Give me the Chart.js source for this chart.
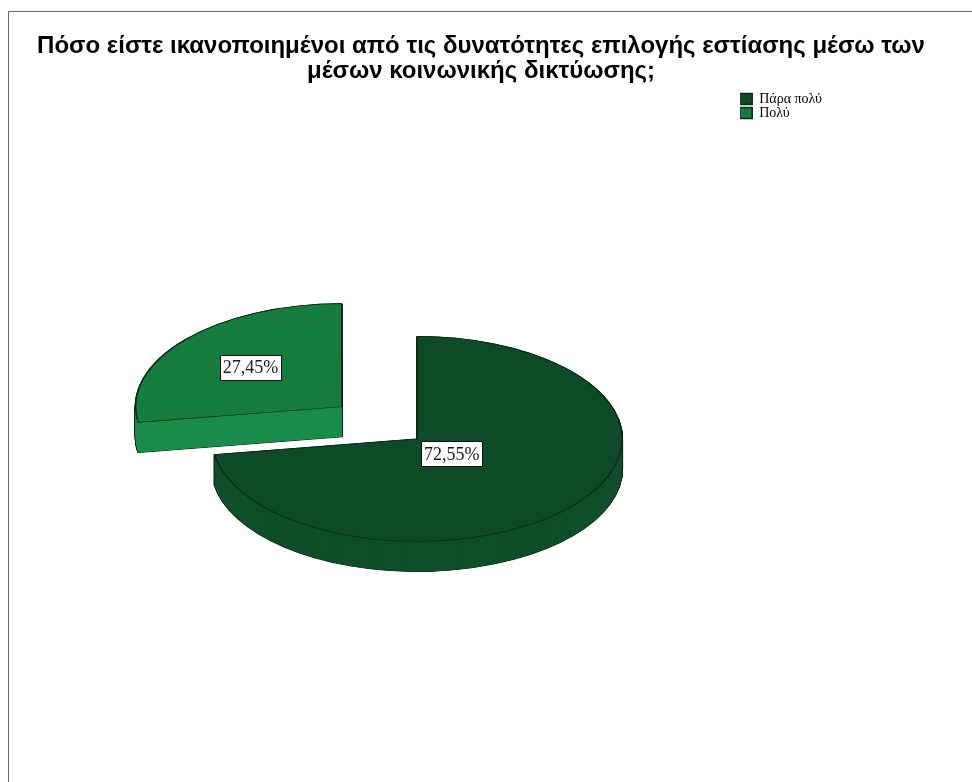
<!DOCTYPE html>
<html lang="el">
<head>
<meta charset="utf-8">
<title>Ικανοποίηση από τις δυνατότητες επιλογής εστίασης</title>
<script src="https://cdn.jsdelivr.net/npm/chart.js@4.4.1/dist/chart.umd.min.js"></script>
<style>
  html, body { margin: 0; padding: 0; background: #fff; overflow: hidden; }
  #frame {
    position: absolute; left: 8px; top: 11px;
    width: 1100px; height: 900px;
    border-left: 1px solid #6b6b6b; border-top: 1px solid #6b6b6b;
  }
  #chart { position: absolute; left: 0; top: 0; }
</style>
</head>
<body>
<div id="frame"><canvas id="chart" width="944" height="790"></canvas></div>
<script>
// Answers and their share of respondents (%)
const categories = ['Πάρα πολύ', 'Πολύ'];
const shares = [72.55, 27.45];
const valueLabels = ['72,55%', '27,45%'];

// Top faces, side walls, outline
const topColors = ['#0d4a27', '#167c3d'];
const sideColors = ['#0f4f2a', '#1a8d4a'];
const edgeColor = '#0a2a15';

// Pulled-out slice distance (Chart.js arcs move by offset / 4)
const explode = [0, 396];

// Empty layout boxes that keep the pie left of centre and the legend off the edge.
const gutters = {
  id: 'gutters',
  beforeInit(chart) {
    [{ position: 'left', size: 65, weight: 10 },
     { position: 'right', size: 101, weight: 3000 }].forEach(g => {
      Chart.layouts.addBox(chart, {
        position: g.position, weight: g.weight, fullSize: false,
        options: {},
        left: 0, top: 0, right: 0, bottom: 0, width: 0, height: 0,
        isHorizontal() { return false; },
        update(maxWidth, maxHeight) { this.width = g.size; this.height = maxHeight; },
        draw() {}
      });
    });
  }
};

// Draws the pie as a tilted disc with a side wall and boxed percentage labels.
const tiltedPie = {
  id: 'tiltedPie',
  beforeDatasetsDraw(chart, args, opts) {
    const ctx = chart.ctx;
    const arcs = chart.getDatasetMeta(0).data;
    const cx = arcs[0].x, cy = arcs[0].y;
    ctx.save();
    ctx.translate(cx, cy);
    ctx.scale(1, opts.ratio);
    ctx.translate(-cx, -cy);

    const depth = opts.depth / opts.ratio;
    const paint = (arc, dy, over) => {
      const saved = arc.options;
      arc.options = Object.assign({}, saved, over);
      ctx.save();
      ctx.translate(0, dy);
      arc.draw(ctx);
      ctx.restore();
      arc.options = saved;
    };
    // outline of the wall
    for (let d = depth; d >= 0; d -= 1) {
      arcs.forEach(arc => paint(arc, d, { backgroundColor: edgeColor, borderColor: edgeColor, borderWidth: 2 }));
    }
    // wall fill
    for (let d = depth; d >= 0; d -= 1) {
      arcs.forEach((arc, i) => paint(arc, d, { backgroundColor: sideColors[i], borderWidth: 0 }));
    }
  },
  afterDatasetsDraw(chart, args, opts) {
    const ctx = chart.ctx;
    ctx.restore();
    const arcs = chart.getDatasetMeta(0).data;
    ctx.save();
    ctx.font = opts.font;
    ctx.textAlign = 'center';
    ctx.textBaseline = 'middle';
    arcs.forEach((arc, i) => {
      const { x, y, startAngle, endAngle, outerRadius } = arc.getProps(['x', 'y', 'startAngle', 'endAngle', 'outerRadius']);
      const sweep = endAngle - startAngle;
      const mid = (startAngle + endAngle) / 2;
      const shift = (arc.options.offset || 0) / 4;
      // centroid of the sector
      const dist = 4 * outerRadius * Math.sin(sweep / 2) / (3 * sweep);
      const ux = x + Math.cos(mid) * (shift + dist);
      const uy = y + Math.sin(mid) * (shift + dist);
      const sx = ux;
      const sy = y + (uy - y) * opts.ratio;
      const text = valueLabels[i];
      const w = Math.round(ctx.measureText(text).width + 6);
      const h = 25;
      const bx = Math.round(sx - w / 2) + 0.5;
      const by = Math.round(sy - h / 2) + 0.5;
      ctx.fillStyle = '#ffffff';
      ctx.fillRect(bx, by, w, h);
      ctx.strokeStyle = '#111111';
      ctx.lineWidth = 1;
      ctx.strokeRect(bx, by, w, h);
      ctx.fillStyle = '#1a1a1a';
      ctx.fillText(text, sx, sy + 1);
    });
    ctx.restore();
  }
};

new Chart(document.getElementById('chart'), {
  type: 'pie',
  data: {
    labels: categories,
    datasets: [{
      data: shares,
      backgroundColor: topColors,
      borderColor: edgeColor,
      borderWidth: 1.5,
      offset: explode
    }]
  },
  options: {
    responsive: false,
    animation: false,
    events: [],
    radius: 205,
    layout: { padding: { left: 20, right: 20, top: 0, bottom: 16 } },
    plugins: {
      title: {
        display: true,
        text: ['Πόσο είστε ικανοποιημένοι από τις δυνατότητες επιλογής εστίασης μέσω των',
               'μέσων κοινωνικής δικτύωσης;'],
        color: '#000',
        font: { family: '"Liberation Sans", Arial, sans-serif', size: 24, weight: 'bold', lineHeight: 1.04 },
        padding: { top: 22, bottom: 8 }
      },
      legend: {
        position: 'right',
        align: 'start',
        fullSize: false,
        labels: {
          color: '#000',
          boxWidth: 12,
          boxHeight: 11,
          padding: 0,
          font: { family: '"Liberation Serif", "Times New Roman", serif', size: 14 }
        }
      },
      tooltip: { enabled: false },
      tiltedPie: {
        ratio: 0.5,
        depth: 30,
        font: '18px "Liberation Serif", "Times New Roman", serif'
      }
    }
  },
  plugins: [gutters, tiltedPie]
});
</script>
</body>
</html>
